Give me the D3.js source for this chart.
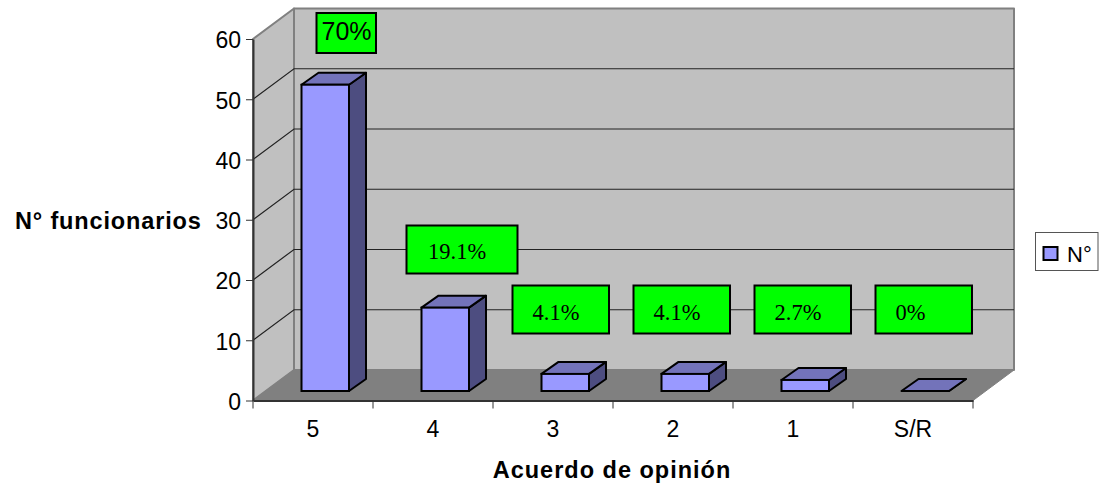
<!DOCTYPE html>
<html>
<head>
<meta charset="utf-8">
<script src="https://cdn.jsdelivr.net/npm/d3@7"></script>
<style>
  body { margin: 0; background: #fff; }
  text { font-family: "Liberation Sans", Arial, sans-serif; fill: #000; }
</style>
</head>
<body>
<div id="Chart"></div>
<script>
var categories = ["5", "4", "3", "2", "1", "S/R"];
var values = [51, 14, 3, 3, 2, 0];
var percents = ["70%", "19.1%", "4.1%", "4.1%", "2.7%", "0%"];
var yTicks = [0, 10, 20, 30, 40, 50, 60];
var seriesName = "N°";

var width = 1101, height = 483;
var left = 253, right = 973, bottom = 400.5, top_ = 39;
// 3d depth of the plot box and of the bars
var depthX = 41, depthY = 30.5;
var barDepthX = 17, barDepthY = 12, barBase = 9.5;

var svg = d3.select("#Chart").append("svg")
    .attr("class", "chart")
    .attr("width", width)
    .attr("height", height)
    .style("display", "block");

var x = d3.scaleBand().domain(categories).range([left, right]);
var y = d3.scaleLinear().domain([0, 60]).range([bottom, top_]);

function poly(points, fill, stroke, sw) {
    return svg.append("polygon")
        .attr("points", points.map(function(p) { return p.join(","); }).join(" "))
        .attr("fill", fill)
        .attr("stroke", stroke)
        .attr("stroke-width", sw)
        .attr("stroke-linejoin", "round");
}

// back wall, side wall, floor
poly([[left + depthX, top_ - depthY], [right + depthX, top_ - depthY], [right + depthX, bottom - depthY], [left + depthX, bottom - depthY]], "#c0c0c0", "#808080", 2);
poly([[left, top_], [left + depthX, top_ - depthY], [left + depthX, bottom - depthY], [left, bottom]], "#c0c0c0", "#808080", 2);
poly([[left, bottom], [left + depthX, bottom - depthY], [right + depthX, bottom - depthY], [right, bottom]], "#808080", "#808080", 1);

// gridlines on the walls
svg.selectAll("path.grid")
    .data(yTicks.filter(function(d) { return d > 0 && d < 60; }))
    .enter()
    .append("path")
    .attr("class", "grid")
    .attr("fill", "none")
    .attr("stroke", "#222")
    .attr("stroke-width", 1.2)
    .attr("d", function(d) {
        return "M" + left + "," + y(d) + "L" + (left + depthX) + "," + (y(d) - depthY) + "L" + (right + depthX) + "," + (y(d) - depthY);
    });

// axes
var yaxis = svg.append("g")
    .attr("class", "axis")
    .attr("transform", "translate(" + left + ",0)")
    .call(d3.axisLeft(y).tickValues(yTicks).tickSize(7).tickSizeOuter(0).tickPadding(5));
yaxis.selectAll("text").attr("dy", "0.39em").style("font-size", "23px");

var xaxis = svg.append("g")
    .attr("class", "axis")
    .attr("transform", "translate(0," + bottom + ")")
    .call(d3.axisBottom(x).tickSize(0).tickPadding(20));
xaxis.selectAll("text").style("font-size", "23px");
xaxis.selectAll("line").remove();
svg.selectAll("line.xtick")
    .data(categories.concat(["end"]))
    .enter()
    .append("line")
    .attr("class", "xtick")
    .attr("x1", function(d, i) { return left + i * x.bandwidth(); })
    .attr("x2", function(d, i) { return left + i * x.bandwidth(); })
    .attr("y1", bottom)
    .attr("y2", bottom + 8)
    .attr("stroke", "#333");
svg.selectAll(".axis line").attr("stroke", "#333").attr("stroke-width", 1);
svg.selectAll(".axis path.domain").attr("stroke", "#333").attr("stroke-width", 2);

// bars
categories.forEach(function(c, i) {
    var x0 = x(c) + 48.5, w = 47.5;
    var y0 = bottom - barBase;
    var yt = y(values[i]) - barBase + (values[i] > 0 ? 1 : 0);
    poly([[x0 + w, y0], [x0 + w + barDepthX, y0 - barDepthY], [x0 + w + barDepthX, yt - barDepthY], [x0 + w, yt]], "#4d4d80", "#000", 2);
    poly([[x0, yt], [x0 + barDepthX, yt - barDepthY], [x0 + w + barDepthX, yt - barDepthY], [x0 + w, yt]], "#7373ba", "#000", 2);
    if (values[i] > 0) {
        svg.append("rect")
            .attr("x", x0).attr("y", yt).attr("width", w).attr("height", y0 - yt)
            .attr("fill", "#9999ff").attr("stroke", "#000").attr("stroke-width", 2);
    }
});

// percent boxes, hand placed on the chart
var boxLayout = [
    {x: 316.5, y: 13, w: 59.5, h: 40, tx: 5, ty: 26.5, font: "Liberation Sans", size: 25},
    {x: 406.5, y: 225.5, w: 111, h: 48, tx: 21.5, ty: 33.5, font: "Liberation Serif", size: 22.5},
    {x: 512.5, y: 285.5, w: 96.5, h: 48, tx: 20, ty: 34.5, font: "Liberation Serif", size: 22.5},
    {x: 633.5, y: 285.5, w: 96.5, h: 48, tx: 20, ty: 34.5, font: "Liberation Serif", size: 22.5},
    {x: 754.5, y: 285.5, w: 96.5, h: 48, tx: 20, ty: 34.5, font: "Liberation Serif", size: 22.5},
    {x: 875.5, y: 285.5, w: 96.5, h: 48, tx: 20, ty: 34.5, font: "Liberation Serif", size: 22.5}
];
var boxes = svg.selectAll("g.pct")
    .data(percents)
    .enter()
    .append("g")
    .attr("class", "pct")
    .attr("transform", function(d, i) { return "translate(" + boxLayout[i].x + "," + boxLayout[i].y + ")"; });
boxes.append("rect")
    .attr("width", function(d, i) { return boxLayout[i].w; })
    .attr("height", function(d, i) { return boxLayout[i].h; })
    .attr("fill", "#00ff00")
    .attr("stroke", "#000")
    .attr("stroke-width", 2);
boxes.append("text")
    .attr("x", function(d, i) { return boxLayout[i].tx; })
    .attr("y", function(d, i) { return boxLayout[i].ty; })
    .style("font-family", function(d, i) { return '"' + boxLayout[i].font + '"'; })
    .style("font-size", function(d, i) { return boxLayout[i].size + "px"; })
    .text(function(d) { return d; });

// axis titles
svg.append("text")
    .attr("x", 15).attr("y", 229)
    .style("font-size", "23.5px").style("font-weight", "bold").style("letter-spacing", "0.85px")
    .text("N° funcionarios");
svg.append("text")
    .attr("x", 612).attr("y", 478)
    .style("text-anchor", "middle")
    .style("font-size", "23.5px").style("font-weight", "bold").style("letter-spacing", "1px")
    .text("Acuerdo de opinión");

// legend
svg.append("rect")
    .attr("x", 1035.5).attr("y", 232.5).attr("width", 62.5).attr("height", 38)
    .attr("fill", "#fff").attr("stroke", "#555").attr("stroke-width", 1);
svg.append("rect")
    .attr("x", 1043.5).attr("y", 247).attr("width", 14).attr("height", 13)
    .attr("fill", "#9999ff").attr("stroke", "#000").attr("stroke-width", 2);
svg.append("text")
    .attr("x", 1067).attr("y", 262)
    .style("font-size", "22px")
    .text(seriesName);
</script>
</body>
</html>
